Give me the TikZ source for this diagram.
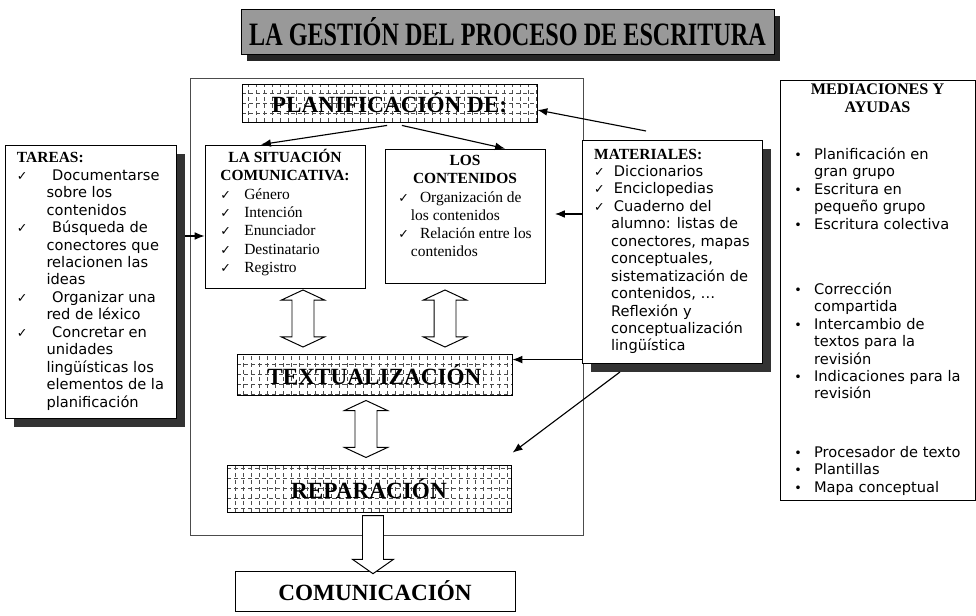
\documentclass[tikz,border=0pt]{standalone}
\usepackage{fontspec}
\usepackage{graphicx}
\setmainfont{Liberation Serif}
\newfontfamily\verd{DejaVu Sans}
\usetikzlibrary{shapes.arrows, arrows.meta, shadows, positioning}

\newcommand{\tick}[1]{\makebox[#1][l]{\verd\fontsize{9}{9}\selectfont ✓}}
\newcommand{\bul}[1]{\makebox[#1][l]{\verd\fontsize{9}{9}\selectfont •}}

\begin{document}
\begin{tikzpicture}[
  x=0.025cm, y=-0.025cm,
  card/.style={draw, fill=white, line width=0.6pt, inner sep=0pt},
  serif/.style={font=\fontsize{11}{13}\selectfont},
  sans/.style={font=\verd\fontsize{10.4}{12.4}\selectfont},
  shade/.style={drop shadow={shadow xshift=0.22cm, shadow yshift=-0.22cm, fill=black!80, opacity=1}},
  title/.style={draw, fill=black!40, line width=0.6pt, inner sep=0pt, font=\fontsize{17.2}{20}\selectfont\bfseries,
    drop shadow={shadow xshift=0.15cm, shadow yshift=-0.17cm, fill=black!85, opacity=1}},
  frame/.style={draw=black!70, line width=0.5pt, inner sep=0pt},
  gridbox/.style={draw, line width=0.6pt, fill=white, inner sep=0pt,
    font=\fontsize{16.5}{18}\selectfont\bfseries,
    path picture={\draw[black!70, line width=0.3pt, densely dashed]
      (path picture bounding box.south west) grid[xstep=0.2cm, ystep=0.25cm]
      (path picture bounding box.north east);}},
  conn/.style={line width=0.8pt, -{Latex[length=7pt, width=5.5pt]}},
  dblarrow/.style={double arrow, draw, fill=white, line width=0.7pt, inner xsep=0pt, inner ysep=0.2625cm,
    minimum width=1.05cm, minimum height=1.425cm, double arrow head extend=0.2625cm,
    double arrow tip angle=130, rotate=90},
  downarrow/.style={single arrow, draw, fill=white, line width=0.7pt, inner xsep=0pt, inner ysep=0.25cm,
    minimum width=1cm, minimum height=1.45cm, single arrow head extend=0.25cm,
    single arrow tip angle=110, rotate=-90}
]
\useasboundingbox (0,0) rectangle (976,616);

% Title
\node[title, minimum width=13.325cm, minimum height=1.125cm] (head) at (507.5,31.5)
  {\scalebox{1}[1.35]{LA GESTIÓN DEL PROCESO DE ESCRITURA}};

% Process area
\node[frame, minimum width=9.825cm, minimum height=11.425cm] (area) at (386.5,306.5) {};
\node[gridbox, minimum width=7.375cm, minimum height=0.95cm] (plan) at (389.5,103) {PLANIFICACIÓN DE:};

\node[card, serif, minimum width=4cm, minimum height=3.575cm] (sit) at (285,216.5) {%
  \begin{tabular}{@{}l@{}}
  \multicolumn{1}{@{}c@{}}{\bfseries LA SITUACIÓN}\\
  \multicolumn{1}{@{}c@{}}{\bfseries COMUNICATIVA:}\\
  \tick{17pt}Género\\
  \tick{17pt}Intención\\
  \tick{17pt}Enunciador\\
  \tick{17pt}Destinatario\\
  \tick{17pt}Registro\rule[-8pt]{0pt}{0pt}
  \end{tabular}};

\node[card, serif, minimum width=4cm, minimum height=3.35cm] (cont) at (465,216) {%
  \begin{tabular}{@{}l@{}}
  \multicolumn{1}{@{}c@{}}{\bfseries LOS}\\
  \multicolumn{1}{@{}c@{}}{\bfseries CONTENIDOS}\\
  \tick{15.5pt}Organización de\\
  \hspace*{9pt}los contenidos\\
  \tick{15.5pt}Relación entre los\\
  \hspace*{9pt}contenidos\rule[-16pt]{0pt}{0pt}
  \end{tabular}};

\node[gridbox, minimum width=6.875cm, minimum height=1.025cm] (txt) at (374.5,374.5) {TEXTUALIZACIÓN};
\node[gridbox, minimum width=7.1cm, minimum height=1.175cm] (rep) at (369,488.5) {REPARACIÓN};
\node[card, minimum width=7cm, minimum height=1cm, font=\fontsize{16.5}{18}\selectfont\bfseries] (com) at (375,591) {COMUNICACIÓN};

% Hollow arrows
\node[dblarrow] (a1) at (303,318.5) {};
\node[dblarrow] (a2) at (445,318.5) {};
\node[dblarrow] (a3) at (366,429) {};
\node[downarrow] (a4) at (373,541) {};

% Side boxes
\node[card, sans, shade, minimum width=4.275cm, minimum height=6.825cm] (tar) at (90.5,281.5) {%
  \begin{tabular}{@{}l@{}}
  {\rmfamily\bfseries\fontsize{11}{12.4}\selectfont TAREAS:}\\
  \tick{25pt}Documentarse\\
  \hspace*{21pt}sobre los\\
  \hspace*{21pt}contenidos\\
  \tick{25pt}Búsqueda de\\
  \hspace*{21pt}conectores que\\
  \hspace*{21pt}relacionen las\\
  \hspace*{21pt}ideas\\
  \tick{25pt}Organizar una\\
  \hspace*{21pt}red de léxico\\
  \tick{25pt}Concretar en\\
  \hspace*{21pt}unidades\\
  \hspace*{21pt}lingüísticas los\\
  \hspace*{21pt}elementos de la\\
  \hspace*{21pt}planificación
  \end{tabular}};

\node[card, sans, shade, minimum width=4.5cm, minimum height=5.575cm] (mat) at (672,251.5) {%
  \begin{tabular}{@{}l@{}}
  {\rmfamily\bfseries\fontsize{11}{12.4}\selectfont MATERIALES:}\\
  \tick{14pt}Diccionarios\\
  \tick{14pt}Enciclopedias\\
  \tick{14pt}Cuaderno del\\
  \hspace*{12pt}alumno: listas de\\
  \hspace*{12pt}conectores, mapas\\
  \hspace*{12pt}conceptuales,\\
  \hspace*{12pt}sistematización de\\
  \hspace*{12pt}contenidos, \dots\\
  \hspace*{12pt}Reflexión y\\
  \hspace*{12pt}conceptualización\\
  \hspace*{12pt}lingüística
  \end{tabular}};

\node[card, sans, minimum width=4.875cm, minimum height=10.5cm] (med) at (877.5,290) {%
  \begin{tabular}{@{}l@{}}
  \multicolumn{1}{@{}c@{}}{\rmfamily\bfseries\fontsize{11.5}{12.4}\selectfont MEDIACIONES Y}\\
  \multicolumn{1}{@{}c@{}}{\rmfamily\bfseries\fontsize{11.5}{12.4}\selectfont AYUDAS}\\[21pt]
  \bul{14pt}Planificación en\\
  \hspace*{14pt}gran grupo\\
  \bul{14pt}Escritura en\\
  \hspace*{14pt}pequeño grupo\\
  \bul{14pt}Escritura colectiva\\[34pt]
  \bul{14pt}Corrección\\
  \hspace*{14pt}compartida\\
  \bul{14pt}Intercambio de\\
  \hspace*{14pt}textos para la\\
  \hspace*{14pt}revisión\\
  \bul{14pt}Indicaciones para la\\
  \hspace*{14pt}revisión\\[29pt]
  \bul{14pt}Procesador de texto\\
  \bul{14pt}Plantillas\\
  \bul{14pt}Mapa conceptual
  \end{tabular}};

% Arrows
\coordinate (tarout) at (185,236);
\coordinate (matplan) at (646,131);
\coordinate (conttip) at (555,214);
\coordinate (txttip) at ([yshift=-0.15cm]txt.north east);
\coordinate (matrep) at (620,372);
\draw[conn] (tarout) -- (tarout -| sit.west);
\draw[conn] ([xshift=-0.06cm, yshift=-0.075cm]plan.south) -- ([xshift=-0.6cm]sit.north);
\draw[conn] ([xshift=0.31cm, yshift=-0.075cm]plan.south) -- ([xshift=1cm]cont.north);
\draw[conn] (matplan) -- ([yshift=-0.175cm]plan.east);
\draw[conn] (mat.west |- conttip) -- (conttip);
\draw[conn] (txttip -| mat.west) -- (txttip);
\draw[conn] (matrep) -- ([xshift=0.03cm, yshift=0.3cm]rep.north east);
\end{tikzpicture}
\end{document}
